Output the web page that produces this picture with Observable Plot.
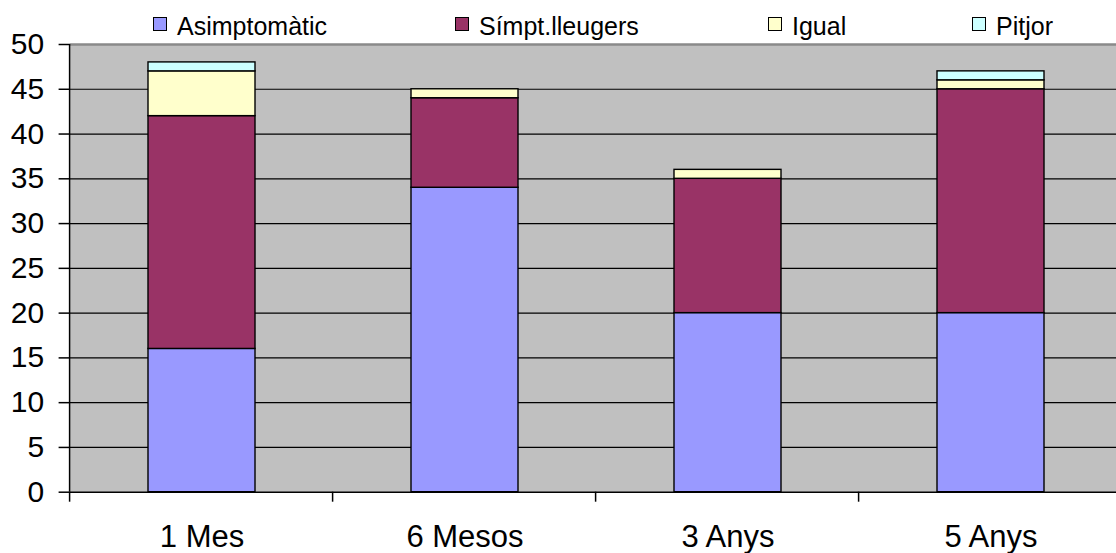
<!DOCTYPE html>
<html>
<head>
<meta charset="utf-8">
<script src="https://cdn.jsdelivr.net/npm/d3@7"></script>
<script src="https://cdn.jsdelivr.net/npm/@observablehq/plot@0.6"></script>
<style>
  body { margin: 0; background: #fff; font-family: "Liberation Sans", Arial, sans-serif; }
  #legend { position: relative; width: 1116px; height: 40px; font-size: 25px; color: #000; }
  #legend .sw { position: absolute; top: 17px; width: 14px; height: 14px; box-sizing: border-box; border: 1.5px solid #000; }
  #legend .lb { position: absolute; top: 14px; line-height: 25px; white-space: nowrap; }
  #chart svg { display: block; overflow: visible; }
</style>
</head>
<body>
<div id="legend"></div>
<div id="chart"></div>
<script>
// Follow-up periods (x categories)
const periods = ["1 Mes", "6 Mesos", "3 Anys", "5 Anys"];
// Outcome groups, in stacking order from the bottom
const seriesNames = ["Asimptomàtic", "Símpt.lleugers", "Igual", "Pitjor"];
// Patient counts per period for each group
const asimptomatic = [16, 34, 20, 20];
const simptLleugers = [26, 10, 15, 25];
const igual = [5, 1, 1, 1];
const pitjor = [1, 0, 0, 1];
// Value-axis ticks
const yTicks = [0, 5, 10, 15, 20, 25, 30, 35, 40, 45, 50];
// Series colours
const seriesColors = ["#9999ff", "#993366", "#ffffcc", "#ccffff"];

const seriesValues = [asimptomatic, simptLleugers, igual, pitjor];
const table = periods.flatMap((period, i) =>
  seriesNames.map((series, j) => ({period, series, value: seriesValues[j][i]}))
).filter(d => d.value > 0);

// Legend row above the chart
const legendLeft = [153, 455, 768, 972];
const legend = document.getElementById("legend");
seriesNames.forEach((name, i) => {
  const sw = document.createElement("div");
  sw.className = "sw";
  sw.style.left = legendLeft[i] + "px";
  sw.style.background = seriesColors[i];
  const lb = document.createElement("div");
  lb.className = "lb";
  lb.style.left = (legendLeft[i] + 24) + "px";
  lb.textContent = name;
  legend.append(sw, lb);
});

const plotLeft = 69.6;
const bandStep = 263.4;

// Left axis line and category-boundary ticks under the x axis
function axisFrame(index, scales, values, dims) {
  const {x, y} = scales;
  const g = d3.create("svg:g").attr("stroke", "#000").attr("stroke-width", 1.5);
  const y0 = y(0);
  const left = x.range ? x.range()[0] : dims.marginLeft;
  const step = x.step ? x.step() : bandStep;
  g.append("line").attr("x1", left).attr("x2", left).attr("y1", y(50)).attr("y2", y0);
  d3.range(periods.length + 1).forEach(i => {
    const b = left + i * step;
    g.append("line").attr("x1", b).attr("x2", b).attr("y1", y0).attr("y2", y0 + 10);
  });
  return g.node();
}

const chart = Plot.plot({
  width: 1116,
  height: 513,
  marginTop: 4,
  marginBottom: 61.3,
  marginLeft: plotLeft,
  marginRight: 0,
  style: {fontFamily: "Liberation Sans, Arial, sans-serif", color: "#000", background: "transparent", overflow: "visible"},
  x: {type: "band", domain: periods, range: [plotLeft, plotLeft + bandStep * periods.length],
      paddingInner: 0.592, paddingOuter: 0.296, align: 0.5},
  y: {domain: [0, 50]},
  color: {domain: seriesNames, range: seriesColors},
  marks: [
    Plot.frame({fill: "#c0c0c0", stroke: null}),
    Plot.ruleY(yTicks.filter(v => v > 0 && v < 50), {stroke: "#000", strokeWidth: 1.2}),
    Plot.ruleY([50], {stroke: "#8a8a8a", strokeWidth: 2.5}),
    Plot.barY(table, {x: "period", y: "value", fill: "series", stroke: "#000", strokeWidth: 1.4}),
    Plot.ruleY([0], {stroke: "#000", strokeWidth: 1.6}),
    axisFrame,
    Plot.axisY({ticks: yTicks, tickSize: 11, tickPadding: 15, fontSize: 30, strokeWidth: 1.5, label: null}),
    Plot.axisX({tickSize: 0, tickPadding: 33, fontSize: 31, label: null})
  ]
});
document.getElementById("chart").append(chart);
</script>
</body>
</html>
